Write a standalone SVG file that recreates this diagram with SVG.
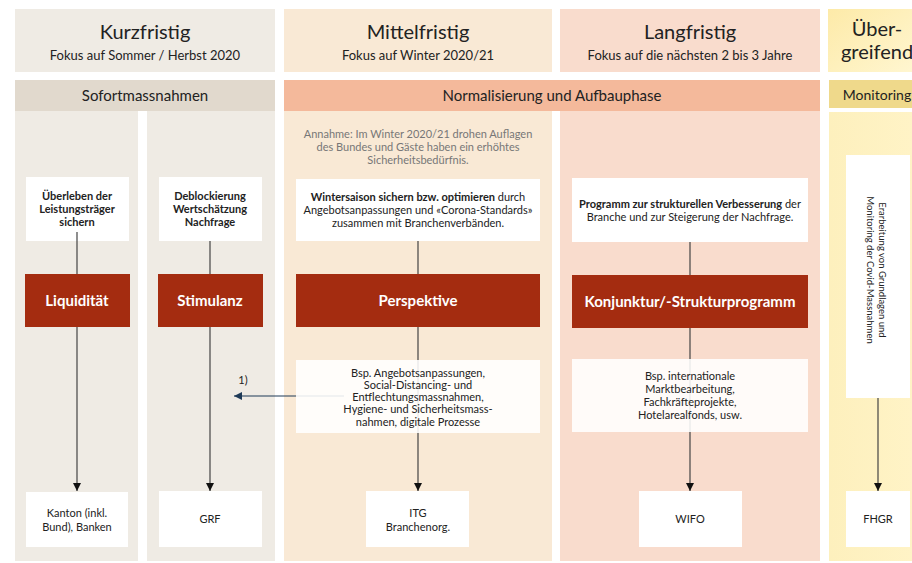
<svg xmlns="http://www.w3.org/2000/svg" width="912" height="563" viewBox="0 0 912 563">
<defs>
<style>
text{font-family:Lato,"Open Sans","Liberation Sans",sans-serif;fill:#222;text-anchor:middle}
.t{font-size:20px}
.s{font-size:13px}
.b{font-size:15px}
.r{font-size:15px;font-weight:bold;fill:#fff}
.w{fill:#fff}
.f{fill:#fff;fill-opacity:0.88}
.n{font-size:11px}
.v{font-size:9.5px}
.nb{font-size:11px;font-weight:bold}
.g{font-size:11px;fill:#777}
.red{fill:#a42c10}
.ln{stroke:#444;stroke-width:1.2;fill:none}
</style>
<linearGradient id="yg" x1="0" y1="0" x2="1" y2="1">
<stop offset="0" stop-color="#fdeaa8"/>
<stop offset="1" stop-color="#fff6d0"/>
</linearGradient>
<linearGradient id="yb" x1="0" y1="0" x2="1" y2="0">
<stop offset="0" stop-color="#fdf0bd"/>
<stop offset="1" stop-color="#fff3c6"/>
</linearGradient>
<marker id="ah" viewBox="0 0 10 10" refX="10" refY="5" markerWidth="8" markerHeight="8" markerUnits="userSpaceOnUse" orient="auto">
<path d="M0,0 L10,5 L0,10 z" fill="#111"/>
</marker>
<marker id="ahn" viewBox="0 0 10 10" refX="10" refY="5" markerWidth="8" markerHeight="8" markerUnits="userSpaceOnUse" orient="auto">
<path d="M0,0 L10,5 L0,10 z" fill="#1e3a57"/>
</marker>
</defs>

<g id="backgrounds">
<rect x="15" y="9" width="260" height="63" fill="#efebe4"/>
<rect x="284" y="9" width="268" height="63" fill="#f9e9d5"/>
<rect x="560" y="9" width="260" height="63" fill="#f9dccd"/>
<rect x="828" y="9" width="84" height="63" fill="url(#yg)"/>
<rect x="15" y="80" width="260" height="31" fill="#e1d9cd"/>
<rect x="284" y="80" width="536" height="31" fill="#f4b99b"/>
<rect x="829" y="80" width="83" height="28" fill="#efd98b"/>
<rect x="15" y="111" width="123" height="450" fill="#efebe4"/>
<rect x="147" y="111" width="128" height="450" fill="#efebe4"/>
<rect x="284" y="111" width="268" height="450" fill="#f9e9d5"/>
<rect x="560" y="111" width="260" height="450" fill="#f9dccd"/>
<rect x="829" y="112" width="83" height="449" fill="url(#yb)"/>
</g>

<g id="headers">
<text class="t" x="145" y="39">Kurzfristig</text>
<text class="s" x="145" y="60">Fokus auf Sommer / Herbst 2020</text>
<text class="t" x="418" y="39">Mittelfristig</text>
<text class="s" x="418" y="60">Fokus auf Winter 2020/21</text>
<text class="t" x="690" y="39">Langfristig</text>
<text class="s" x="690" y="60">Fokus auf die nächsten 2 bis 3 Jahre</text>
<text class="t" x="877" y="36">Über-</text>
<text class="t" x="877" y="59">greifend</text>
<text class="b" x="145" y="101">Sofortmassnahmen</text>
<text class="b" x="552" y="101">Normalisierung und Aufbauphase</text>
<text x="877" y="100" style="font-size:14px">Monitoring</text>
<text class="g" x="418" y="138">Annahme: Im Winter 2020/21 drohen Auflagen</text>
<text class="g" x="418" y="151">des Bundes und Gäste haben ein erhöhtes</text>
<text class="g" x="418" y="164">Sicherheitsbedürfnis.</text>
</g>

<g id="n-ueberleben">
<rect class="w" x="26" y="177" width="103" height="64"/>
<text class="nb" x="77" y="200">Überleben der</text>
<text class="nb" x="77" y="213">Leistungsträger</text>
<text class="nb" x="77" y="226">sichern</text>
</g>
<g id="n-deblockierung">
<rect class="w" x="159" y="177" width="103" height="64"/>
<text class="nb" x="210" y="200">Deblockierung</text>
<text class="nb" x="210" y="213">Wertschätzung</text>
<text class="nb" x="210" y="226">Nachfrage</text>
</g>
<g id="n-wintersaison">
<rect class="w" x="296" y="179" width="244" height="62"/>
<text class="n" x="418" y="201"><tspan font-weight="bold">Wintersaison sichern bzw. optimieren</tspan> durch</text>
<text class="n" x="418" y="214">Angebotsanpassungen und «Corona-Standards»</text>
<text class="n" x="418" y="227">zusammen mit Branchenverbänden.</text>
</g>
<g id="n-programm">
<rect class="w" x="572" y="178" width="236" height="64"/>
<text class="n" x="690" y="208"><tspan font-weight="bold">Programm zur strukturellen Verbesserung</tspan> der</text>
<text class="n" x="690" y="221">Branche und zur Steigerung der Nachfrage.</text>
</g>

<g id="connectors">
<line class="ln" x1="77" y1="232" x2="77" y2="491" marker-end="url(#ah)"/>
<line class="ln" x1="210" y1="241" x2="210" y2="491" marker-end="url(#ah)"/>
<line class="ln" x1="418" y1="241" x2="418" y2="491" marker-end="url(#ah)"/>
<line class="ln" x1="690" y1="242" x2="690" y2="491" marker-end="url(#ah)" stroke="#6e625a"/>
<line class="ln" x1="878" y1="398" x2="878" y2="491" marker-end="url(#ah)"/>
<line x1="344" y1="396" x2="234" y2="396" stroke="#1e3a57" stroke-width="1.2" marker-end="url(#ahn)"/>
<text class="n" x="243" y="384">1)</text>
</g>

<g id="n-liquiditaet">
<rect class="red" x="25" y="274" width="105" height="53"/>
<text class="r" x="77" y="306">Liquidität</text>
</g>
<g id="n-stimulanz">
<rect class="red" x="158" y="274" width="105" height="53"/>
<text class="r" x="210" y="306">Stimulanz</text>
</g>
<g id="n-perspektive">
<rect class="red" x="296" y="274" width="244" height="53"/>
<text class="r" x="418" y="306">Perspektive</text>
</g>
<g id="n-konjunktur">
<rect class="red" x="572" y="275" width="236" height="53"/>
<text class="r" x="690" y="307">Konjunktur/-Strukturprogramm</text>
</g>

<g id="n-bsp-angebot">
<rect class="f" x="296" y="360" width="244" height="73"/>
<text class="n" x="418" y="377">Bsp. Angebotsanpassungen,</text>
<text class="n" x="418" y="389">Social-Distancing- und</text>
<text class="n" x="418" y="401">Entflechtungsmassnahmen,</text>
<text class="n" x="418" y="413">Hygiene- und Sicherheitsmass-</text>
<text class="n" x="418" y="426">nahmen, digitale Prozesse</text>
</g>
<g id="n-bsp-international">
<rect class="f" x="572" y="359" width="236" height="73"/>
<text class="n" x="690" y="380">Bsp. internationale</text>
<text class="n" x="690" y="393">Marktbearbeitung,</text>
<text class="n" x="690" y="406">Fachkräfteprojekte,</text>
<text class="n" x="690" y="419">Hotelarealfonds, usw.</text>
</g>
<g id="n-erarbeitung">
<rect class="w" x="846" y="155" width="64" height="243"/>
<g transform="translate(878,270) rotate(90)">
<text class="v" x="0" y="-1">Erarbeitung von Grundlagen und</text>
<text class="v" x="0" y="11">Monitoring der Covid-Massnahmen</text>
</g>
</g>

<g id="n-kanton">
<rect class="w" x="26" y="492" width="102" height="55"/>
<text class="n" x="77" y="517">Kanton (inkl.</text>
<text class="n" x="77" y="531">Bund), Banken</text>
</g>
<g id="n-grf">
<rect class="w" x="159" y="491" width="103" height="56"/>
<text class="n" x="210" y="523">GRF</text>
</g>
<g id="n-itg">
<rect class="w" x="366" y="491" width="103" height="56"/>
<text class="n" x="418" y="517">ITG</text>
<text class="n" x="418" y="531">Branchenorg.</text>
</g>
<g id="n-wifo">
<rect class="w" x="639" y="491" width="103" height="56"/>
<text class="n" x="690" y="523">WIFO</text>
</g>
<g id="n-fhgr">
<rect class="w" x="846" y="491" width="64" height="56"/>
<text class="n" x="878" y="523">FHGR</text>
</g>
</svg>
